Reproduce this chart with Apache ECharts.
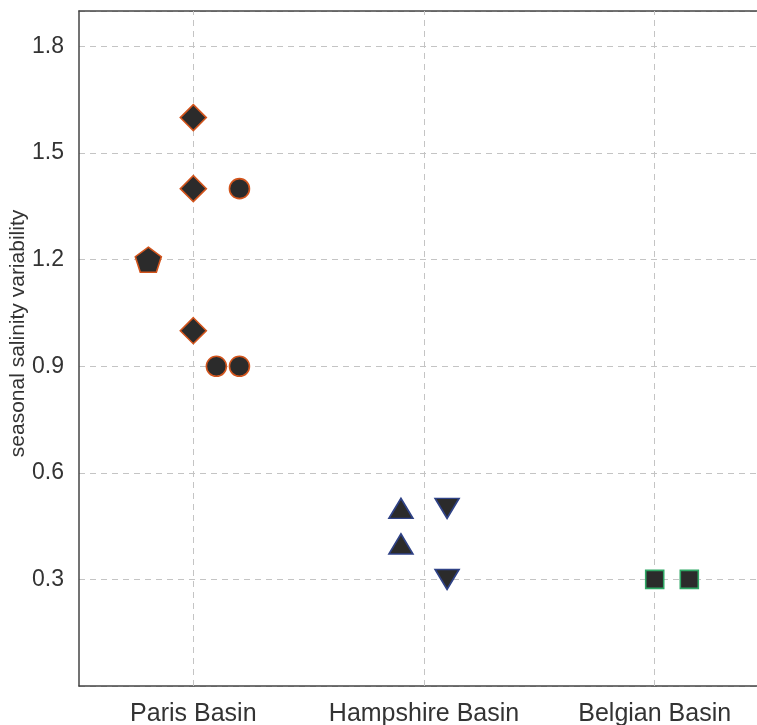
<!DOCTYPE html>
<html><head><meta charset="utf-8">
<script src="https://cdn.jsdelivr.net/npm/echarts@6/dist/echarts.min.js"></script>
<style>html,body{margin:0;padding:0;background:#fff}#c{width:757px;height:725px}</style>
</head><body><div id="c"></div>
<script>
const categories = ['Paris Basin', 'Hampshire Basin', 'Belgian Basin'];
const categoryPositions = [1, 2, 3];
const yTicks = [0.3, 0.6, 0.9, 1.2, 1.5, 1.8];
// [x position (category index, 1-based, with jitter), value]
const parisPentagon = [[0.805, 1.2]];
const parisDiamond = [[1.0, 1.6], [1.0, 1.4], [1.0, 1.0]];
const parisCircle = [[1.2, 1.4], [1.1, 0.9], [1.2, 0.9]];
const hampshireUp = [[1.9, 0.5], [1.9, 0.4]];
const hampshireDown = [[2.1, 0.5], [2.1, 0.3]];
const belgianSquare = [[3.0, 0.3], [3.15, 0.3]];

const fill = '#2b2b2b';
const orange = '#d2541c', navy = '#2f4286', green = '#2fa765';
const pentagon = 'path://M0,-1 L0.951,-0.309 L0.588,0.809 L-0.588,0.809 L-0.951,-0.309 Z';
const font = 'Liberation Sans, Arial, sans-serif';

function ser(data, symbol, size, border, rotate) {
  return {
    type: 'scatter', data: data, symbol: symbol, symbolSize: size,
    symbolRotate: rotate || 0, z: 5,
    itemStyle: { color: fill, borderColor: border, borderWidth: 1.6, opacity: 1 },
    emphasis: { disabled: true }
  };
}
const series = [
  {
    type: 'scatter', data: [], z: 1, silent: true,
    markLine: {
      silent: true, symbol: 'none', label: { show: false }, z: 1,
      lineStyle: { color: '#c4c4c4', type: [6, 5], width: 1 },
      data: categoryPositions.map(p => ({ xAxis: p }))
    }
  },
  ser(parisPentagon, pentagon, [26, 25], orange),
  ser(parisDiamond, 'diamond', [26, 26], orange),
  ser(parisCircle, 'circle', 20, orange),
  ser(hampshireUp, 'triangle', [24, 20], navy),
  ser(hampshireDown, 'triangle', [24, 20], navy, 180),
  ser(belgianSquare, 'rect', 18, green)
];

const chart = echarts.init(document.getElementById('c'), null, { renderer: 'canvas' });
chart.setOption({
  animation: false,
  backgroundColor: '#fff',
  grid: { left: 79, right: 0, top: 11, bottom: 39, containLabel: false, outerBoundsMode: 'none' },
  xAxis: [
    {
      type: 'value', min: 0.5045, max: 3.4434, position: 'bottom',
      axisLine: { show: true, onZero: false, lineStyle: { color: '#444', width: 1.5 } },
      axisTick: { show: false, customValues: categoryPositions },
      splitLine: { show: false },
      axisLabel: {
        color: '#333', fontSize: 25, fontFamily: font, margin: 16,
        customValues: categoryPositions,
        formatter: v => categories[Math.round(v) - 1] || ''
      }
    },
    {
      type: 'value', min: 0.5045, max: 3.4434, position: 'top',
      axisLine: { show: true, onZero: false, lineStyle: { color: '#444', width: 1.5 } },
      axisTick: { show: false }, axisLabel: { show: false }, splitLine: { show: false }
    }
  ],
  yAxis: {
    type: 'value', min: 0, max: 1.9, interval: 0.3,
    name: 'seasonal salinity variability', nameLocation: 'middle', nameGap: 50,
    nameMoveOverlap: false,
    nameTextStyle: { color: '#333', fontSize: 21, fontFamily: font, padding: [0, 0, 0, 30] },
    axisLine: { show: true, lineStyle: { color: '#444', width: 1.5 } },
    axisTick: { show: false },
    axisLabel: {
      color: '#333', fontSize: 23, fontFamily: font, margin: 15,
      formatter: v => (yTicks.some(t => Math.abs(t - v) < 1e-6) ? v.toFixed(1) : '')
    },
    splitLine: { show: true, lineStyle: { color: '#c4c4c4', type: [6, 5], width: 1 } }
  },
  series: series
});
</script></body></html>
